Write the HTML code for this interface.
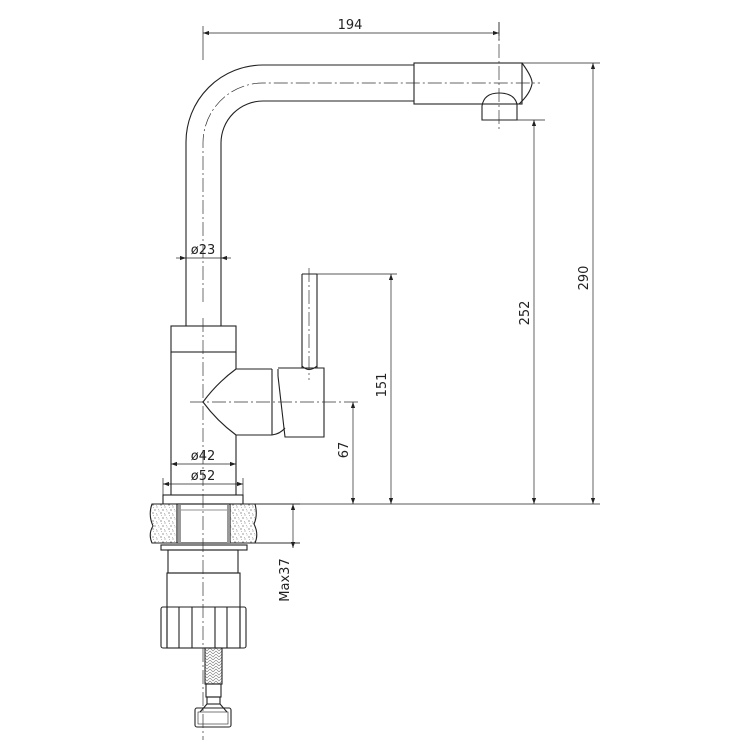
<!DOCTYPE html>
<html><head><meta charset="utf-8"><style>
html,body{margin:0;padding:0;background:#fff}
svg{display:block}
text{font-family:"DejaVu Sans","Liberation Sans",sans-serif;font-size:13px;fill:#222}
</style></head><body>
<svg width="750" height="750" viewBox="0 0 750 750" xmlns="http://www.w3.org/2000/svg">
<defs>
<marker id="a" viewBox="0 0 10 10" refX="10" refY="5" markerWidth="9" markerHeight="6" orient="auto-start-reverse" markerUnits="userSpaceOnUse"><path d="M0,1.5 L10,5 L0,8.5 z" fill="#222"/></marker>
<pattern id="st" width="8" height="8" patternUnits="userSpaceOnUse">
<rect width="8" height="8" fill="#fff"/>
<circle cx="1" cy="1" r="0.6" fill="#555"/><circle cx="5" cy="3" r="0.5" fill="#555"/><circle cx="3" cy="6" r="0.6" fill="#555"/><circle cx="7" cy="7" r="0.4" fill="#555"/><path d="M4 1 l1 1 M1 4 l1 -1 M6 5 l1 1" stroke="#666" stroke-width="0.4"/>
</pattern>
<pattern id="br" width="6" height="6" patternUnits="userSpaceOnUse">
<rect width="6" height="6" fill="#fff"/><path d="M0 0 L3 3 L6 0 M0 3 L3 6 L6 3" stroke="#777" stroke-width="0.6" fill="none"/>
</pattern>
</defs>
<g fill="none" stroke="#222" stroke-width="1.1">
<!-- spout pipe -->
<path d="M186,326 L186,142 A77,77 0 0 1 263,65 L414,65"/>
<path d="M221,326 L221,143 A42,42 0 0 1 263,101 L414,101"/>
<!-- spray head -->
<rect x="414" y="63" width="108" height="41"/>
<path d="M522,63 Q533,78 532,84 Q530,94 519,104"/>
<path d="M482,120 L482,106 Q484,93 499,93 Q514,93 517,104 L517,120 Z"/>
<!-- collar/body -->
<rect x="171" y="326" width="65" height="26"/>
<path d="M171,352 L171,495 M236,352 L236,369 M236,435 L236,495"/>
<!-- side cone -->
<path d="M236,369 Q217,383 203,402 Q217,421 236,435"/>
<path d="M236,369 L272,369 M236,435 L272,435"/>
<path d="M272,369 L272,435 M278,369 L278,376"/>
<path d="M272,435 Q280,434 285,428"/>
<path d="M278,368 L324,368 L324,437 L285,437 L278,376"/>
<!-- handle -->
<path d="M302,274 L302,368 M317,274 L317,368 M302,274 L317,274"/>
<path d="M302,366 Q309,373 317,366"/>
<!-- base flange -->
<rect x="163" y="495" width="80" height="9"/>
<!-- counter -->
<path d="M243,504 L600,504" stroke-width="0.8"/>
<path d="M152,504 L177,504 L177,543 L152,543 Q148,534 153,526 Q148,515 152,504 Z" fill="url(#st)"/>
<path d="M230,504 L255,504 Q258,515 254,524 Q259,534 255,543 L230,543 Z" fill="url(#st)"/>
<path d="M255,504 L300,504 M255,543 L300,543" stroke-width="0.7"/>
<rect x="177" y="504" width="53" height="39"/>
<rect x="178" y="505" width="3" height="38" fill="#999" stroke="none"/>
<rect x="227" y="505" width="3" height="38" fill="#999" stroke="none"/>
<path d="M181,510 L227,510" stroke-width="0.6"/>
<!-- washer -->
<rect x="161" y="545" width="86" height="5"/>
<!-- nut -->
<rect x="168" y="550" width="70" height="23"/>
<rect x="167" y="573" width="73" height="75"/>
<rect x="161" y="607" width="85" height="41" rx="2"/>
<path d="M167,607 L167,648 M179,607 L179,648 M192,607 L192,648 M215,607 L215,648 M227,607 L227,648 M240,607 L240,648"/>
<!-- hose -->
<rect x="205" y="648" width="17" height="36" fill="url(#br)"/>
<rect x="206" y="684" width="15" height="13"/>
<rect x="207" y="697" width="13" height="7"/>
<path d="M207,704 L200,712 M220,704 L227,712"/>
<rect x="195" y="708" width="36" height="19" rx="2"/>
<rect x="198" y="712" width="30" height="12" stroke-width="0.6"/>
</g>
<!-- centerlines -->
<g fill="none" stroke="#333" stroke-width="0.7" stroke-dasharray="14,3,2,3">
<path d="M203,302 L203,143 A60,60 0 0 1 263,83 L540,83"/>
<path d="M203,318 L203,740"/>
<path d="M499,22 L499,132"/>
<path d="M309,268 L309,380"/>
<path d="M190,402 L358,402"/>
</g>
<!-- dimension/extension lines -->
<g fill="none" stroke="#222" stroke-width="0.7">
<path d="M203,26 L203,60"/>
<path d="M499,22 L499,40"/>
<path d="M522,63 L600,63"/>
<path d="M517,120 L545,120"/>
<path d="M317,274 L397,274"/>
<path d="M163,478 L163,495 M243,478 L243,495"/>
<path d="M255,543 L300,543"/>
<path d="M203,33 L499,33" marker-start="url(#a)" marker-end="url(#a)"/>
<path d="M593,63 L593,504" marker-start="url(#a)" marker-end="url(#a)"/>
<path d="M534,120 L534,504" marker-start="url(#a)" marker-end="url(#a)"/>
<path d="M391,274 L391,504" marker-start="url(#a)" marker-end="url(#a)"/>
<path d="M353,402 L353,504" marker-start="url(#a)" marker-end="url(#a)"/>
<path d="M171,464 L236,464" marker-start="url(#a)" marker-end="url(#a)"/>
<path d="M163,484 L243,484" marker-start="url(#a)" marker-end="url(#a)"/>
<path d="M176,258 L186,258" marker-end="url(#a)"/>
<path d="M231,258 L221,258" marker-end="url(#a)"/>
<path d="M186,258 L221,258"/>
<path d="M293,504 L293,548" marker-start="url(#a)" marker-end="url(#a)"/>
</g>
<text x="350" y="29" text-anchor="middle">194</text>
<text x="203" y="254" text-anchor="middle">ø23</text>
<text x="203" y="460" text-anchor="middle">ø42</text>
<text x="203" y="480" text-anchor="middle">ø52</text>
<text transform="translate(588,278) rotate(-90)" text-anchor="middle">290</text>
<text transform="translate(529,313) rotate(-90)" text-anchor="middle">252</text>
<text transform="translate(386,385) rotate(-90)" text-anchor="middle">151</text>
<text transform="translate(348,450) rotate(-90)" text-anchor="middle">67</text>
<text transform="translate(289,580) rotate(-90)" text-anchor="middle">Max37</text>
</svg>
</body></html>
